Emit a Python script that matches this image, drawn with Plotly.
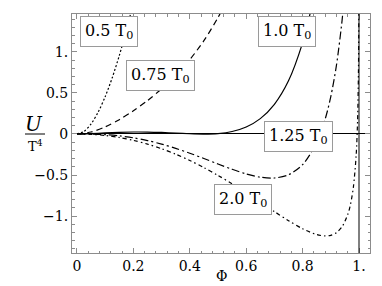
import plotly.graph_objects as go

# Φ samples and U/T^4 values read for each temperature
phi_05 = [0, 0.025, 0.05, 0.075, 0.1, 0.125, 0.15, 0.175, 0.19, 0.2]
u_05 = [0, 0.032, 0.123, 0.266, 0.455, 0.686, 0.956, 1.263, 1.463, 1.604]

phi_075 = [0, 0.05, 0.1, 0.15, 0.2, 0.25, 0.3, 0.35, 0.4, 0.45, 0.5, 0.52]
u_075 = [0, 0.0245, 0.0866, 0.1747, 0.2824, 0.4074, 0.5503, 0.7146, 0.907, 1.1373, 1.4197, 1.5515]

phi_10 = [0, 0.05, 0.1, 0.15, 0.2, 0.25, 0.3, 0.35, 0.4, 0.45, 0.5, 0.55, 0.6, 0.65, 0.7, 0.75, 0.8, 0.82, 0.83]
u_10 = [0, 0.0044, 0.0128, 0.0203, 0.0242, 0.0235, 0.0185, 0.0107, 0.0028, -0.0009, 0.0055, 0.0304,
        0.0855, 0.1877, 0.3621, 0.6479, 1.1111, 1.3706, 1.5216]

phi_125 = [0, 0.05, 0.1, 0.15, 0.2, 0.25, 0.3, 0.35, 0.4, 0.45, 0.5, 0.55, 0.6, 0.65, 0.7, 0.75, 0.8,
           0.85, 0.88, 0.9, 0.92, 0.94, 0.95]
u_125 = [0, -0.0014, -0.0082, -0.0228, -0.0466, -0.0801, -0.1231, -0.175, -0.2343, -0.2988, -0.3656,
         -0.4302, -0.4867, -0.5265, -0.5366, -0.4972, -0.3742, -0.1041, 0.181, 0.456, 0.8364, 1.386, 1.7627]

phi_20 = [0, 0.05, 0.1, 0.15, 0.2, 0.25, 0.3, 0.35, 0.4, 0.45, 0.5, 0.55, 0.6, 0.65, 0.7, 0.75, 0.8,
          0.85, 0.88, 0.9, 0.92, 0.94, 0.96, 0.97, 0.98, 0.99, 0.995, 0.998, 0.999, 0.9995]
u_20 = [0, -0.0045, -0.0186, -0.043, -0.0779, -0.1235, -0.1797, -0.2464, -0.3232, -0.4097, -0.5049,
        -0.608, -0.7174, -0.831, -0.9458, -1.0567, -1.1555, -1.2268, -1.2434, -1.2355, -1.2031, -1.1308,
        -0.9836, -0.8551, -0.6499, -0.2565, 0.1674, 0.7501, 1.1987, 1.6505]

labels = ["0.5 T<sub>0</sub>", "0.75 T<sub>0</sub>", "1.0 T<sub>0</sub>", "1.25 T<sub>0</sub>", "2.0 T<sub>0</sub>"]
label_x = [0.112, 0.296, 0.746, 0.786, 0.589]
label_y = [1.25, 0.714, 1.25, -0.03, -0.80]

x_tickvals = [0, 0.2, 0.4, 0.6, 0.8, 1.0]
x_ticktext = ["0", "0.2", "0.4", "0.6", "0.8", "1."]
y_tickvals = [-1, -0.5, 0, 0.5, 1]
y_ticktext = ["\u22121.", "\u22120.5", "0", "0.5", "1."]

series = [
    (phi_05, u_05, "2px,2px"),
    (phi_075, u_075, "6px,4px"),
    (phi_10, u_10, "solid"),
    (phi_125, u_125, "8px,3px,2px,3px"),
    (phi_20, u_20, "4px,3px,1.5px,3px"),
]

FONT = "DejaVu Serif"
FRAME = "#8c8c8c"
PW, PH, ML, MT = 298, 239, 64, 6


def px_to_paper(px, py):
    return (px - ML) / PW, 1 - (py - MT) / PH


fig = go.Figure()
for xs, ys, dash in series:
    fig.add_trace(go.Scatter(x=xs, y=ys, mode="lines",
                             line=dict(color="black", width=1.2, dash=dash, shape="spline", smoothing=0.8),
                             showlegend=False, hoverinfo="skip"))

# vertical reference line at Φ = 1
fig.add_shape(type="line", x0=1, x1=1, y0=0, y1=1, xref="x", yref="paper", line=dict(color="black", width=1))

for t, x, y in zip(labels, label_x, label_y):
    fig.add_annotation(x=x, y=y, text=t, showarrow=False, font=dict(family=FONT, size=16, color="black"),
                       bgcolor="white", bordercolor="#9a9a9a", borderwidth=1, borderpad=4)

# y-axis title as a fraction
ux, uy = px_to_paper(26, 116)
fig.add_annotation(x=ux, y=uy, xref="paper", yref="paper", text="<i>U</i>", showarrow=False,
                   font=dict(family=FONT, size=20, color="black"), xanchor="center", yanchor="middle")
tx, ty = px_to_paper(27, 138)
fig.add_annotation(xref="paper", yref="paper", x=tx, y=ty, text="T<sup>4</sup>", showarrow=False,
                   font=dict(family=FONT, size=13, color="black"), xanchor="center", yanchor="middle")
lx0, ly = px_to_paper(17, 126)
lx1, _ = px_to_paper(37, 126)
fig.add_shape(type="line", xref="paper", yref="paper", x0=lx0, x1=lx1, y0=ly, y1=ly,
              line=dict(color="black", width=1))

# x-axis title
fx, fy = px_to_paper(213, 268)
fig.add_annotation(x=fx, y=fy, xref="paper", yref="paper", text="\u03a6", showarrow=False,
                   font=dict(family=FONT, size=14, color="black"), xanchor="center", yanchor="middle")

axis_common = dict(showgrid=False, ticks="inside", showline=True, linecolor=FRAME, linewidth=1,
                   tickcolor=FRAME, ticklen=5, tickwidth=1, tickfont=dict(family=FONT, size=14, color="black"))
xminor = dict(dtick=0.04, tick0=0, ticks="inside", ticklen=2.5, tickcolor=FRAME, tickwidth=1)
yminor = dict(dtick=0.1, tick0=0, ticks="inside", ticklen=2.5, tickcolor=FRAME, tickwidth=1)
xr = [-0.0177, 1.039]
yr = [-1.451, 1.463]

fig.update_layout(
    xaxis=dict(range=xr, tickvals=x_tickvals, ticktext=x_ticktext, zeroline=False, minor=xminor, **axis_common),
    yaxis=dict(range=yr, tickvals=y_tickvals, ticktext=y_ticktext, zeroline=True, zerolinecolor="black",
               zerolinewidth=1, minor=yminor, **axis_common),
    xaxis2=dict(range=xr, tickvals=x_tickvals, overlaying="x", side="top", anchor="y", showticklabels=False,
                zeroline=False, minor=xminor, **axis_common),
    yaxis2=dict(range=yr, tickvals=y_tickvals, overlaying="y", side="right", anchor="x", showticklabels=False,
                zeroline=False, minor=yminor, **axis_common),
    width=382, height=286, margin=dict(l=ML, r=382 - ML - PW, t=MT, b=286 - MT - PH),
    plot_bgcolor="white", paper_bgcolor="white",
)
# invisible trace to activate the mirrored axes
fig.add_trace(go.Scatter(x=[0.5], y=[0], xaxis="x2", yaxis="y2", mode="markers", marker=dict(opacity=0),
                         showlegend=False, hoverinfo="skip"))
fig.write_html("out.html")
